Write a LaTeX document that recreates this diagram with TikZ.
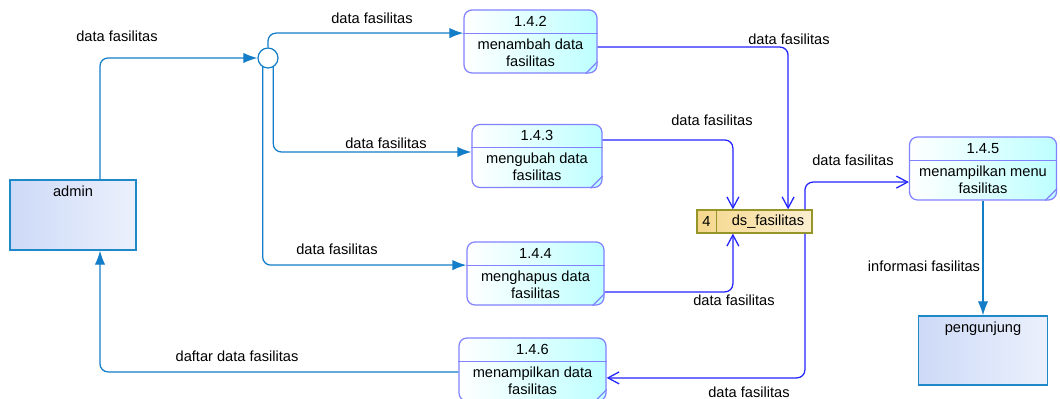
\documentclass[tikz,border=0pt]{standalone}
\usepackage{fontspec}
\setmainfont{Liberation Sans}
\usetikzlibrary{arrows.meta}

\definecolor{flowteal}{RGB}{20,125,200}
\definecolor{flowblue}{RGB}{35,35,255}
\definecolor{procborder}{RGB}{130,130,255}
\definecolor{procfill}{RGB}{190,255,255}
\definecolor{entborder}{RGB}{30,136,200}
\definecolor{entfill}{RGB}{205,218,247}
\definecolor{storeborder}{RGB}{150,150,40}
\definecolor{storefill}{RGB}{245,215,140}

\tikzset{
    proc/.style={draw=procborder, line width=0.9pt, rounded corners=0.2cm,
        left color=white, right color=procfill, minimum height=1.575cm},
    procedge/.style={draw=procborder, line width=0.9pt},
    entity/.style={draw=entborder, line width=0.9pt,
        left color=entfill, right color=entfill!40!white},
    store/.style={draw=storeborder, line width=0.9pt,
        left color=storefill, right color=storefill!40!white},
    junc/.style={circle, draw=flowteal, line width=0.9pt, fill=white, minimum size=0.5cm},
    flowin/.style={draw=flowteal, line width=0.9pt, rounded corners=0.2cm,
        -{Latex[length=0.35cm, width=0.26cm]}},
    flowout/.style={draw=flowblue, line width=0.9pt, rounded corners=0.2cm,
        -{Straight Barb[length=0.28cm, width=0.3cm]}}
}

\begin{document}
\begin{tikzpicture}[x=0.025cm, y=-0.025cm, font=\fontsize{10.4}{12}\selectfont]
    \useasboundingbox (0,0) rectangle (1060,399);

    % External entities
    \node[entity, minimum width=3.15cm, minimum height=1.75cm,
        label={[anchor=north, yshift=-0.04cm]north:admin}] (admin) at (73,215) {};
    \node[entity, minimum width=3.225cm, minimum height=1.725cm,
        label={[anchor=north, yshift=-0.04cm]north:pengunjung}] (peng) at (983,350.5) {};

    % Processes
    \foreach \n/\cx/\cy/\w/\id/\txt in {
            p142/530.5/41.5/133/1.4.2/{menambah data\\fasilitas},
            p143/537/156/130/1.4.3/{mengubah data\\fasilitas},
            p144/535.5/273.5/137/1.4.4/{menghapus data\\fasilitas},
            p145/983/168.5/147/1.4.5/{menampilkan menu\\fasilitas},
            p146/532.5/369.5/147/1.4.6/{menampilkan data\\fasilitas}}
        {
            \node[proc, minimum width=\w*0.025cm] (\n) at (\cx,\cy) {};
            \draw[procedge] ([yshift=-0.6cm]\n.north west) -- ([yshift=-0.6cm]\n.north east);
            \draw[procedge] ([xshift=-0.3cm]\n.south east) -- ([yshift=0.3cm]\n.south east);
            \node (\n-id) at ([yshift=-0.3cm]\n.north) {\id};
            \node[align=center] (\n-txt) at ([yshift=-1.08cm]\n.north) {\txt};
        }

    % Data store
    \node[store, minimum width=2.875cm, minimum height=0.575cm] (store) at (754.5,221.5) {};
    \draw[draw=storeborder, line width=0.9pt] ([xshift=0.5cm]store.north west) -- ([xshift=0.5cm]store.south west);
    \node (store-id) at ([xshift=0.25cm]store.west) {4};
    \node (store-txt) at (768,221.5) {ds\_fasilitas};

    % Junction
    \node[junc] (junc) at (268,58) {};

    % Flows into the processes
    \draw[flowin] ([xshift=0.675cm]admin.north) |- (junc.west);
    \draw[flowin] (junc.north) |- ([yshift=0.21cm]p142.west);
    \draw[flowin] (junc.-60) |- ([yshift=0.1cm]p143.west);
    \draw[flowin] (junc.-120) |- ([yshift=0.21cm]p144.west);

    % Flows to and from the data store
    \draw[flowout] ([yshift=-0.14cm]p142.east) -| ([xshift=0.84cm]store.north);
    \draw[flowout] ([yshift=0.4cm]p143.east) -| ([xshift=-0.54cm]store.north);
    \draw[flowout] ([yshift=-0.46cm]p144.east) -| ([xshift=-0.54cm]store.south);
    \draw[flowout] ([xshift=1.26cm]store.north) |- ([yshift=-0.34cm]p145.west);
    \draw[flowout] ([xshift=1.26cm]store.south) |- ([yshift=-0.21cm]p146.east);

    % Flows to the entities
    \draw[flowin] (p145.south) -- (peng.north);
    \draw[flowin] ([yshift=-0.06cm]p146.west) -| ([xshift=0.675cm]admin.south);

    % Labels
    \node (l1) at (117,36) {data fasilitas};
    \node (l2) at (372,18) {data fasilitas};
    \node (l3) at (386,143) {data fasilitas};
    \node (l4) at (337,249) {data fasilitas};
    \node (l5) at (789,39) {data fasilitas};
    \node (l6) at (712,120) {data fasilitas};
    \node (l7) at (734,300) {data fasilitas};
    \node (l8) at (853,160) {data fasilitas};
    \node (l9) at (749,392) {data fasilitas};
    \node (l10) at (924,266) {informasi fasilitas};
    \node (l11) at (237,356) {daftar data fasilitas};

\end{tikzpicture}
\end{document}
